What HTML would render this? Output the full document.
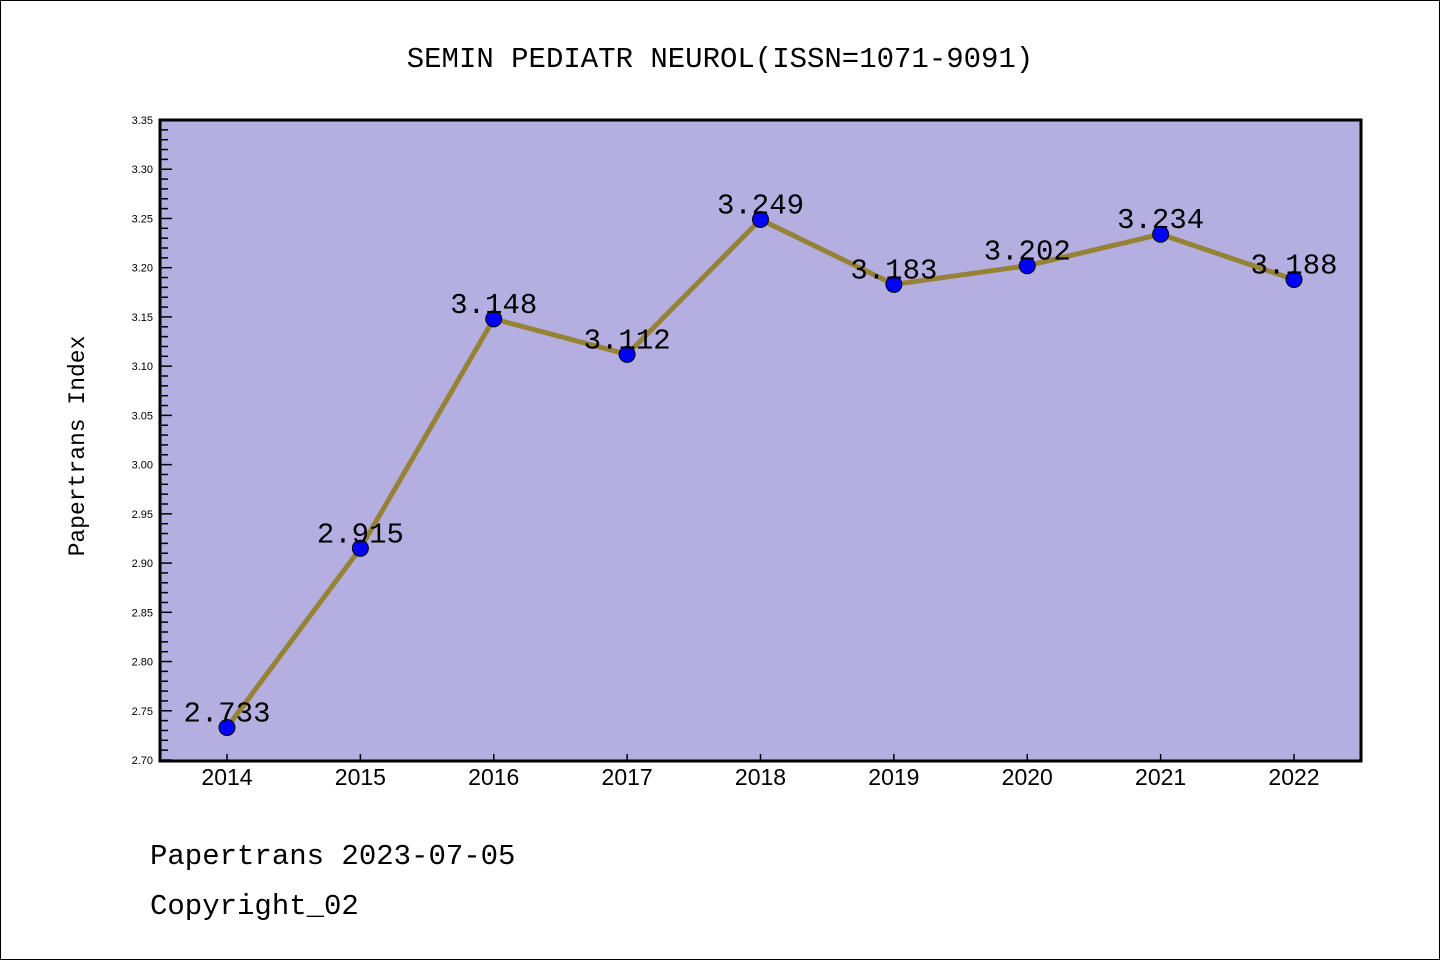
<!DOCTYPE html>
<html><head><meta charset="utf-8"><style>
body{margin:0;background:#fff}
svg{display:block;font-family:"Liberation Mono","Noto Sans CJK SC",monospace}
</style></head><body>
<svg width="1440" height="960">
<rect x="0.5" y="0.5" width="1439" height="959" fill="#fff" stroke="#000"/>
<text x="720" y="67" font-size="29" text-anchor="middle">SEMIN PEDIATR NEUROL(ISSN=1071-9091)</text>
<rect x="160" y="120" width="1201" height="641" fill="#b5aee1"/>
<g id="ticks"></g>
<g id="series"></g>
<rect x="160" y="120" width="1201" height="641" fill="none" stroke="#000" stroke-width="3"/>
<text transform="translate(84,446) rotate(-90)" font-size="23" text-anchor="middle">Papertrans Index</text>
<text x="150" y="864" font-size="29">Papertrans 2023-07-05</text>
<text x="150" y="914" font-size="29">Copyright_02</text>
</svg>
<script>
const years=[2014,2015,2016,2017,2018,2019,2020,2021,2022];
const values=[2.733,2.915,3.148,3.112,3.249,3.183,3.202,3.234,3.188];
const labels=["2.733","2.915","3.148","3.112","3.249","3.183","3.202","3.234","3.188"];
const yTicks=["2.70","2.75","2.80","2.85","2.90","2.95","3.00","3.05","3.10","3.15","3.20","3.25","3.30","3.35"];
const yMin=2.70,yMax=3.35;
const NS="http://www.w3.org/2000/svg";
const X=i=>227+i*(1294-227)/(years.length-1);
const Y=v=>760-(v-yMin)/(yMax-yMin)*640;
const tg=document.getElementById('ticks'),sg=document.getElementById('series');
function mk(tag,at,p){const e=document.createElementNS(NS,tag);for(const k in at)e.setAttribute(k,at[k]);p.appendChild(e);return e;}
for(let k=0;k<=65;k++){const v=yMin+k*0.01;const y=Y(v);const major=k%5===0;
const t=mk('line',{x1:160,x2:major?172:168,y1:y,y2:y,stroke:'#000','stroke-width':1.5},tg);

}
yTicks.forEach(s=>{const t=mk('text',{x:153,y:Y(parseFloat(s))+4,'font-size':11,'text-anchor':'end','font-family':'Liberation Sans, sans-serif'},tg);t.textContent=s;

});
years.forEach((yr,i)=>{const l=mk('line',{x1:X(i),x2:X(i),y1:760,y2:754,stroke:'#000','stroke-width':1.5},tg);


const t=mk('text',{x:X(i),y:785,'font-size':23,'text-anchor':'middle','font-family':'Liberation Sans, sans-serif'},tg);t.textContent=yr;

});
const pl=mk('polyline',{points:values.map((v,i)=>X(i)+','+Y(v)).join(' '),fill:'none',stroke:'#968234','stroke-width':5,'stroke-linejoin':'round'},sg);


values.forEach((v,i)=>{const c=mk('circle',{cx:X(i),cy:Y(v),r:8,fill:'#0000ff',stroke:'#000','stroke-width':1},sg);


const t=mk('text',{x:X(i),y:Y(v)-6,'font-size':29,'text-anchor':'middle'},sg);t.textContent=labels[i];

});
</script>
</body></html>
